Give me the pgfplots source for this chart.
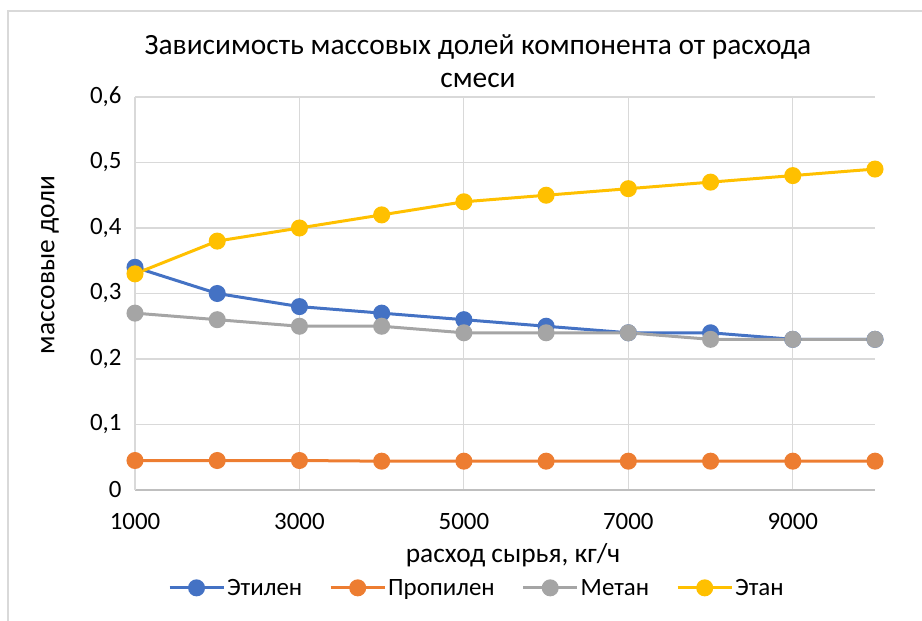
\documentclass[border=0pt]{standalone}
\usepackage{pgfplots}
\pgfplotsset{compat=1.18}
\usepackage{fontspec}
\setmainfont{Carlito}
\definecolor{cEt}{HTML}{4472C4}
\definecolor{cPr}{HTML}{ED7D31}
\definecolor{cMe}{HTML}{A5A5A5}
\definecolor{cEa}{HTML}{FFC000}
\definecolor{cGrid}{HTML}{D9D9D9}
\definecolor{cAx}{HTML}{BFBFBF}
\begin{document}
\begin{tikzpicture}[x=1bp,y=1bp]
\useasboundingbox (0,0) rectangle (922,621);
\draw[cGrid, line width=1.5bp] (8,0) -- (8,610) -- (922,610);
\begin{axis}[
  at={(135bp,131bp)}, anchor=south west,
  scale only axis, width=740bp, height=393bp,
  xmin=1000, xmax=10000, ymin=0, ymax=0.6,
  xtick={1000,3000,5000,7000,9000},
  ytick={0,0.1,0.2,0.3,0.4,0.5,0.6},
  scaled x ticks=false, scaled y ticks=false,
  axis lines=left,
  axis line style={-},
  x axis line style={cAx, line width=1.8bp},
  y axis line style={cGrid, line width=1.2bp},
  major tick length=0pt,
  grid=major,
  major grid style={cGrid, line width=1.2bp},
  tick label style={font=\fontsize{25}{29}\selectfont, text=black},
  yticklabel style={anchor=east, xshift=-10bp},
  xticklabel style={anchor=north, yshift=-20bp},
  /pgf/number format/assume math mode=true,
  yticklabel={\pgfmathprintnumber[fixed, precision=1, use comma]{\tick}},
  xticklabel={\pgfmathprintnumber[fixed, precision=0, 1000 sep={}]{\tick}},
  every axis plot/.append style={line width=3bp, mark=*, mark size=7bp},
  legend columns=4,
  legend style={at={(axis description cs:0.462,-0.249)}, anchor=center, draw=none, fill=none,
    font=\fontsize{25}{29}\selectfont, /tikz/every even column/.append style={column sep=25bp},
    inner sep=0pt},
  legend image code/.code={\draw[mark repeat=2, mark phase=2] plot coordinates {(0bp,0bp) (27bp,0bp) (54bp,0bp)};},
  clip=false,
]
\addplot[cEt, mark options={fill=cEt, draw=cEt}] coordinates {
(1000,0.34) (2000,0.30) (3000,0.28) (4000,0.27) (5000,0.26) (6000,0.25) (7000,0.24) (8000,0.24) (9000,0.23) (10000,0.23)};
\addlegendentry{Этилен}
\addplot[cPr, mark options={fill=cPr, draw=cPr}] coordinates {
(1000,0.045) (2000,0.045) (3000,0.045) (4000,0.044) (5000,0.044) (6000,0.044) (7000,0.044) (8000,0.044) (9000,0.044) (10000,0.044)};
\addlegendentry{Пропилен}
\addplot[cMe, mark options={fill=cMe, draw=cMe}] coordinates {
(1000,0.27) (2000,0.26) (3000,0.25) (4000,0.25) (5000,0.24) (6000,0.24) (7000,0.24) (8000,0.23) (9000,0.23) (10000,0.23)};
\addlegendentry{Метан}
\addplot[cEa, mark options={fill=cEa, draw=cEa}] coordinates {
(1000,0.33) (2000,0.38) (3000,0.40) (4000,0.42) (5000,0.44) (6000,0.45) (7000,0.46) (8000,0.47) (9000,0.48) (10000,0.49)};
\addlegendentry{Этан}
\end{axis}
\node[font=\fontsize{29.5}{33}\selectfont, align=center, text=black] at (478,560) {Зависимость массовых долей компонента от расхода\\смеси};
\node[font=\fontsize{27.5}{32}\selectfont, text=black] at (513,66) {расход сырья, кг/ч};
\node[font=\fontsize{27.5}{32}\selectfont, text=black, rotate=90] at (50,356) {массовые доли};
\end{tikzpicture}
\end{document}
